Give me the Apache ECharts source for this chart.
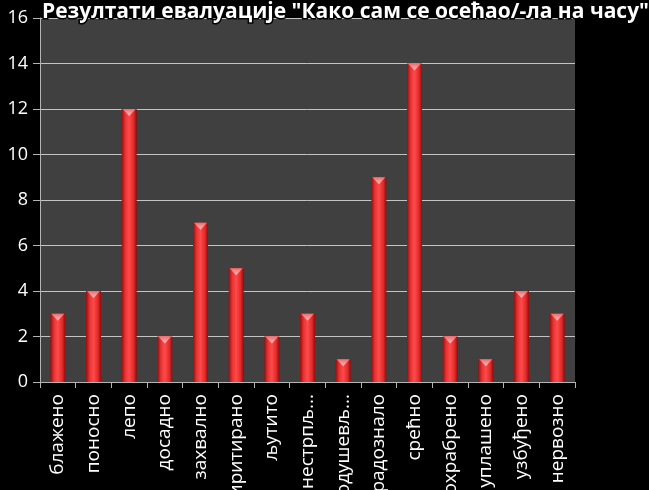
<!DOCTYPE html>
<html>
<head>
<meta charset="utf-8">
<script src="https://cdn.jsdelivr.net/npm/echarts@6/dist/echarts.min.js"></script>
<style>
    html, body { margin: 0; padding: 0; background: #000; }
    #chart { width: 649px; height: 490px; }
</style>
</head>
<body>
<div id="chart"></div>
<script>
    //podaci
    var categories = ["блажено", "поносно", "лепо", "досадно", "захвално", "иритирано", "љутито", "нестрпљ...", "одушевљ...", "радознало", "срећно", "охрабрено", "уплашено", "узбуђено", "нервозно"];
    var values = [3, 4, 12, 2, 7, 5, 2, 3, 1, 9, 14, 2, 1, 4, 3];
    var yTicks = { min: 0, max: 16, interval: 2 };
    var titleText = 'Резултати евалуације "Како сам се осећао/-ла на часу"';

    var font = "'Open Sans', sans-serif";
    var myChart = echarts.init(document.getElementById("chart"));

    //crvena boja stubica (valjak)
    var barColor = new echarts.graphic.LinearGradient(0, 0, 1, 0, [
        { offset: 0, color: "#960e0e" },
        { offset: 0.25, color: "#e83434" },
        { offset: 0.5, color: "#ff4a4a" },
        { offset: 0.8, color: "#e02a2a" },
        { offset: 1, color: "#8e0c0c" }
    ]);
    var capColor = new echarts.graphic.LinearGradient(0, 0, 0, 1, [
        { offset: 0, color: "#ffc0c0" },
        { offset: 1, color: "#f26a6a" }
    ]);

    var option = {
        backgroundColor: "#000",
        title: {
            text: titleText,
            left: 37,
            top: -3,
            textStyle: {
                color: "#fff",
                fontFamily: font,
                fontWeight: "bold",
                fontSize: 21,
                textBorderColor: "#000",
                textBorderWidth: 3
            }
        },
        grid: {
            left: 40,
            right: 74,
            top: 18,
            bottom: 108,
            outerBoundsMode: "none",
            containLabel: false,
            show: true,
            backgroundColor: "#404040",
            borderWidth: 0
        },
        xAxis: {
            type: "category",
            data: categories,
            axisLine: { lineStyle: { color: "#b4b4b4", width: 1 } },
            axisTick: { show: true, length: 6, lineStyle: { color: "#b4b4b4" } },
            axisLabel: {
                interval: 0,
                rotate: 90,
                margin: 12,
                color: "#fff",
                fontFamily: font,
                fontSize: 19
            }
        },
        yAxis: {
            type: "value",
            min: yTicks.min,
            max: yTicks.max,
            interval: yTicks.interval,
            axisLine: { show: true, lineStyle: { color: "#b4b4b4", width: 1 } },
            axisTick: { show: true, length: 7, lineStyle: { color: "#b4b4b4" } },
            splitLine: { lineStyle: { color: "#c4c4c4", width: 1 } },
            axisLabel: {
                margin: 12,
                color: "#fff",
                fontFamily: font,
                fontSize: 18
            }
        },
        series: [
            {
                type: "bar",
                data: values,
                barWidth: 15,
                itemStyle: { color: barColor },
                z: 2
            },
            {
                //vrh stubica
                type: "pictorialBar",
                data: values,
                symbol: "triangle",
                symbolRotate: 180,
                symbolSize: [13, 7],
                symbolPosition: "end",
                itemStyle: { color: capColor },
                z: 3
            }
        ],
        animation: false
    };
    myChart.setOption(option);
</script>
</body>
</html>
